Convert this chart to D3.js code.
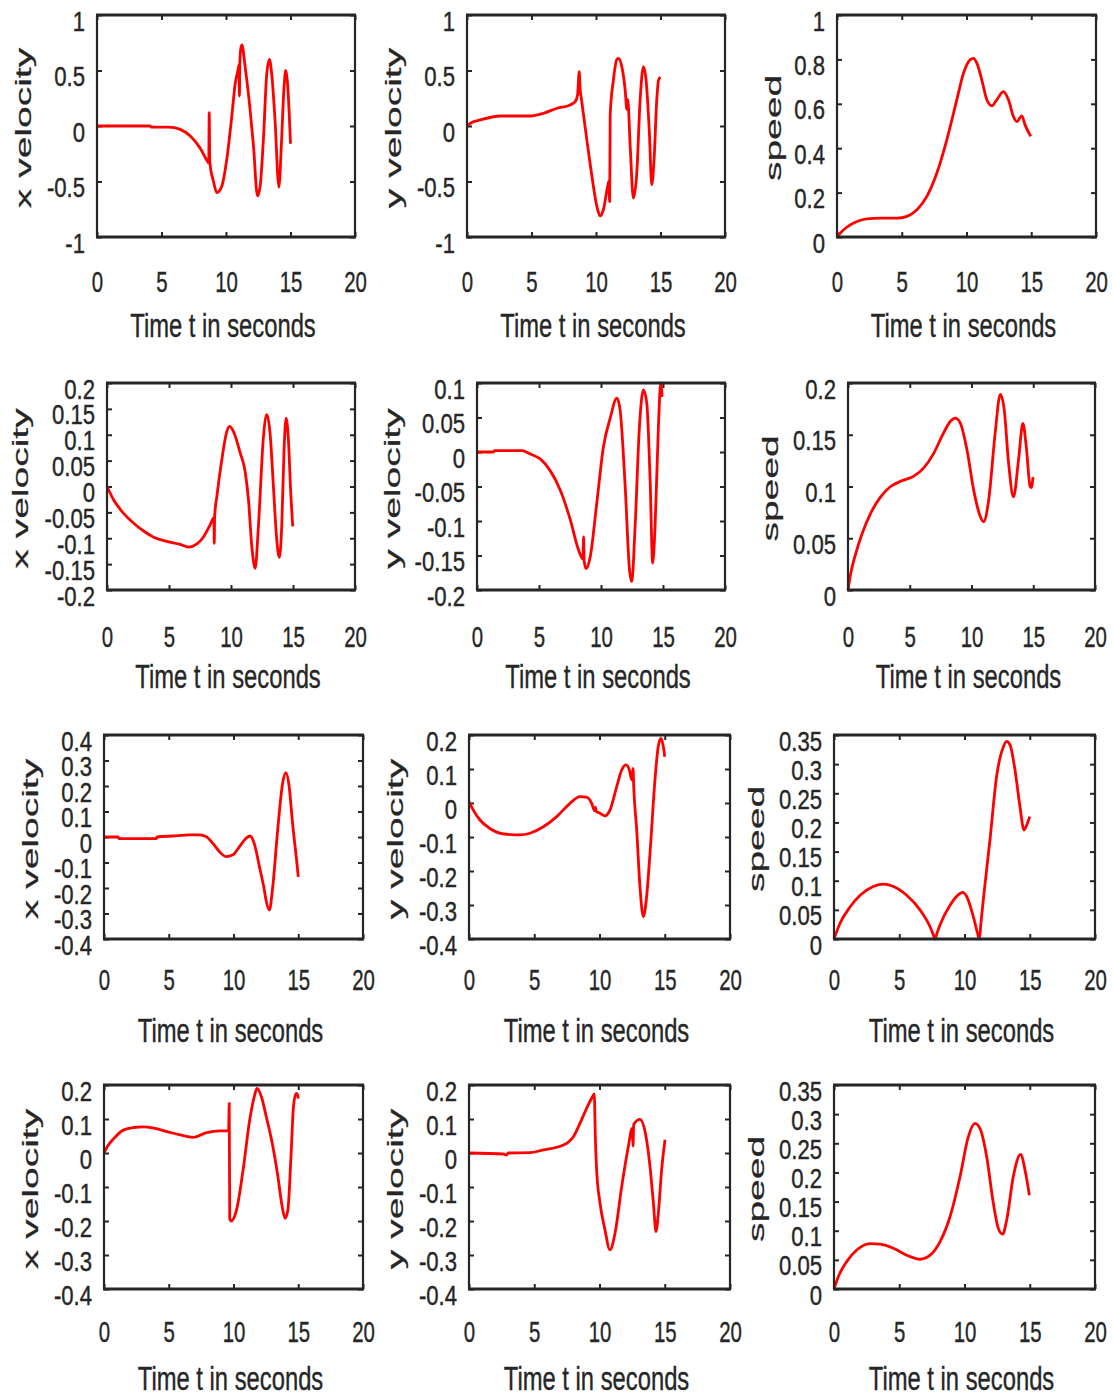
<!DOCTYPE html>
<html>
<head>
<meta charset="utf-8">
<script src="https://cdn.jsdelivr.net/npm/d3@7"></script>
<style>
  body { margin: 0; background: #fff; }
  svg text { font-family: "Liberation Sans", Arial, sans-serif; fill: #262626; stroke: #262626; stroke-width: 0.4px; }
</style>
</head>
<body>
<div id="chart"></div>
<script>
// Tick values and labels
const xTicks = [0, 5, 10, 15, 20];
const xLabel = "Time t in seconds";
const ticksUnit = [-1, -0.5, 0, 0.5, 1];
const ticksSpeedA = [0, 0.2, 0.4, 0.6, 0.8, 1];
const ticksXB = [-0.2, -0.15, -0.1, -0.05, 0, 0.05, 0.1, 0.15, 0.2];
const ticksYB = [-0.2, -0.15, -0.1, -0.05, 0, 0.05, 0.1];
const ticksSpeedB = [0, 0.05, 0.1, 0.15, 0.2];
const ticksXC = [-0.4, -0.3, -0.2, -0.1, 0, 0.1, 0.2, 0.3, 0.4];
const ticksLow = [-0.4, -0.3, -0.2, -0.1, 0, 0.1, 0.2];
const ticksSpeedC = [0, 0.05, 0.1, 0.15, 0.2, 0.25, 0.3, 0.35];

// Row 1
const p1Time = [0, 4.13, 4.2, 5.55, 6.45, 7.23, 8.0, 8.57, 8.66, 8.7, 8.74, 9.03, 9.29, 9.68, 10.06, 10.45, 10.7, 10.97, 11.0, 11.04, 11.07, 11.15, 11.23, 11.48, 11.87, 12.13, 12.44, 12.65, 12.9, 13.16, 13.37, 13.55, 13.8, 14.1, 14.3, 14.5, 14.63, 14.75, 14.9, 15.0];
const p1Vel = [0, 0, -0.01, -0.01, -0.03, -0.09, -0.2, -0.32, -0.335, 0.12, -0.32, -0.5, -0.6, -0.54, -0.3, 0.09, 0.37, 0.53, 0.55, 0.27, 0.56, 0.7, 0.73, 0.535, 0.145, -0.18, -0.63, -0.54, -0.12, 0.47, 0.6, 0.46, 0.055, -0.55, -0.15, 0.355, 0.5, 0.41, 0.115, -0.16];
const p2Time = [0, 0.26, 1.03, 2.6, 4.9, 5.94, 6.97, 8.0, 8.39, 8.57, 8.7, 8.77, 8.85, 9.29, 9.68, 10.06, 10.32, 10.58, 10.9, 10.99, 11.06, 11.1, 11.35, 11.6, 11.74, 12.0, 12.26, 12.39, 12.46, 12.65, 12.9, 13.16, 13.42, 13.68, 13.88, 14.14, 14.32, 14.5, 14.71, 14.85, 15.0];
const p2Vel = [0, 0.025, 0.055, 0.09, 0.09, 0.115, 0.16, 0.19, 0.22, 0.28, 0.49, 0.33, 0.26, -0.125, -0.45, -0.72, -0.81, -0.75, -0.545, -0.5, -0.68, 0.1, 0.415, 0.595, 0.61, 0.535, 0.325, 0.15, 0.24, -0.18, -0.65, -0.425, 0.235, 0.535, 0.415, -0.065, -0.53, -0.305, 0.235, 0.415, 0.44];
const p3Time = [0, 0.26, 0.77, 1.54, 2.31, 3.34, 4.63, 5.4, 6.17, 6.94, 7.71, 8.48, 9.25, 9.77, 10.28, 10.54, 10.8, 11.18, 11.57, 11.95, 12.34, 12.85, 13.24, 13.62, 13.88, 14.27, 14.52, 14.96];
const p3Speed = [0, 0.018, 0.045, 0.07, 0.082, 0.085, 0.085, 0.093, 0.123, 0.183, 0.288, 0.438, 0.618, 0.738, 0.798, 0.805, 0.783, 0.708, 0.618, 0.591, 0.618, 0.655, 0.618, 0.543, 0.52, 0.546, 0.505, 0.453];

// Row 2
const p4Time = [0, 0.54, 1.34, 2.15, 2.95, 3.76, 4.83, 5.9, 6.58, 7.25, 7.79, 8.32, 8.62, 8.65, 8.68, 8.86, 9.26, 9.66, 9.88, 10.2, 10.74, 11.14, 11.41, 11.68, 11.95, 12.21, 12.62, 12.89, 13.15, 13.42, 13.69, 13.9, 14.09, 14.28, 14.44, 14.63, 14.82, 14.98];
const p4Vel = [0, -0.026, -0.052, -0.071, -0.086, -0.098, -0.106, -0.112, -0.117, -0.111, -0.097, -0.074, -0.06, -0.11, -0.058, -0.019, 0.052, 0.106, 0.116, 0.106, 0.065, 0.029, -0.026, -0.116, -0.158, -0.077, 0.097, 0.139, 0.103, 0, -0.103, -0.137, -0.077, 0.071, 0.132, 0.09, -0.013, -0.077];
const p5Time = [0, 1.34, 1.4, 3.62, 4.3, 5.1, 5.9, 6.71, 7.52, 8.19, 8.54, 8.6, 8.64, 8.8, 9.13, 9.66, 10.2, 10.74, 11.28, 11.54, 11.95, 12.3, 12.48, 12.75, 13.1, 13.42, 13.69, 13.96, 14.17, 14.36, 14.63, 14.82, 14.93];
const p5Vel = [0, 0, 0.002, 0.002, -0.003, -0.01, -0.027, -0.055, -0.098, -0.142, -0.155, -0.123, -0.158, -0.169, -0.152, -0.074, 0.008, 0.049, 0.078, 0.061, -0.05, -0.171, -0.188, -0.108, 0.037, 0.09, 0.071, -0.04, -0.161, -0.108, 0.037, 0.1, 0.08];
const p6Time = [0, 0.22, 0.62, 1.16, 1.83, 2.64, 3.45, 4.25, 5.33, 6.14, 6.94, 7.75, 8.29, 8.69, 9.1, 9.64, 10.17, 10.71, 10.98, 11.39, 11.92, 12.33, 12.65, 13.0, 13.4, 13.81, 14.16, 14.43, 14.75, 14.85, 14.98];
const p6Speed = [0, 0.016, 0.035, 0.055, 0.074, 0.09, 0.1, 0.105, 0.11, 0.118, 0.132, 0.152, 0.163, 0.166, 0.161, 0.135, 0.097, 0.071, 0.066, 0.087, 0.152, 0.189, 0.174, 0.123, 0.09, 0.126, 0.161, 0.139, 0.1, 0.099, 0.109];

// Row 3
const p7Time = [0, 1.1, 1.15, 4.05, 4.1, 5.33, 6.6, 7.38, 7.9, 8.41, 8.92, 9.44, 9.95, 10.46, 10.97, 11.28, 11.6, 12.0, 12.38, 12.51, 12.77, 13.03, 13.41, 13.79, 14.05, 14.3, 14.56, 14.87, 15.0];
const p7Vel = [0, 0, -0.006, -0.006, 0, 0.004, 0.008, 0.008, 0.001, -0.025, -0.058, -0.077, -0.07, -0.038, -0.005, 0.004, -0.025, -0.116, -0.208, -0.247, -0.286, -0.195, 0.027, 0.21, 0.252, 0.197, 0.054, -0.09, -0.156];
const p8Time = [0, 0.33, 0.84, 1.6, 2.63, 3.9, 4.67, 5.7, 6.72, 7.74, 8.5, 9.0, 9.4, 9.62, 9.68, 9.75, 10.04, 10.42, 10.8, 11.32, 11.7, 12.03, 12.29, 12.47, 12.57, 12.62, 12.85, 13.1, 13.36, 13.61, 13.87, 14.25, 14.5, 14.71, 14.89, 15.0];
const p8Vel = [0.004, -0.021, -0.05, -0.075, -0.091, -0.094, -0.089, -0.07, -0.04, -0.001, 0.019, 0.017, -0.001, -0.023, -0.012, -0.025, -0.03, -0.038, -0.021, 0.048, 0.097, 0.112, 0.097, 0.068, 0.102, 0.05, -0.079, -0.246, -0.334, -0.275, -0.148, 0.068, 0.166, 0.19, 0.166, 0.136];
const p9Time = [0, 0.46, 1.23, 2.0, 3.01, 3.78, 4.55, 5.57, 6.59, 7.36, 7.6, 7.74, 7.88, 8.12, 8.89, 9.66, 9.86, 10.17, 10.68, 11.0, 11.14, 11.25, 11.44, 11.95, 12.46, 12.98, 13.23, 13.49, 13.87, 14.25, 14.56, 14.81, 15.0];
const p9Speed = [0, 0.027, 0.055, 0.075, 0.09, 0.094, 0.09, 0.075, 0.05, 0.021, 0.008, 0.0, 0.009, 0.024, 0.058, 0.078, 0.08, 0.073, 0.038, 0.01, 0.0, 0.025, 0.067, 0.17, 0.279, 0.33, 0.339, 0.333, 0.29, 0.227, 0.187, 0.198, 0.21];

// Row 4
const p10Time = [0, 0.26, 0.77, 1.53, 2.3, 3.07, 3.84, 4.86, 5.88, 6.9, 7.93, 8.95, 9.62, 9.67, 9.71, 9.82, 10.23, 10.74, 11.25, 11.64, 11.82, 12.15, 12.53, 13.04, 13.43, 13.76, 13.99, 14.2, 14.45, 14.63, 14.83, 14.92, 15.0];
const p10Vel = [0, 0.019, 0.043, 0.068, 0.075, 0.077, 0.073, 0.063, 0.053, 0.046, 0.06, 0.065, 0.065, 0.146, -0.195, -0.2, -0.168, -0.05, 0.097, 0.171, 0.19, 0.166, 0.107, 0.019, -0.07, -0.158, -0.192, -0.167, -0.001, 0.136, 0.175, 0.174, 0.16];
const p11Time = [0, 2.63, 2.89, 3.0, 4.67, 5.7, 6.72, 7.48, 8.0, 8.5, 9.02, 9.4, 9.6, 9.68, 9.78, 10.04, 10.42, 10.8, 11.19, 11.7, 12.21, 12.5, 12.57, 12.62, 13.1, 13.49, 13.87, 14.13, 14.33, 14.53, 14.76, 15.02];
const p11Vel = [0, -0.003, -0.006, 0, 0.001, 0.009, 0.017, 0.028, 0.048, 0.087, 0.132, 0.161, 0.174, 0.048, -0.05, -0.147, -0.226, -0.285, -0.236, -0.099, 0.019, 0.072, 0.02, 0.084, 0.099, 0.063, -0.04, -0.147, -0.231, -0.167, -0.05, 0.039];
const p12Time = [0, 0.33, 0.97, 1.74, 2.76, 3.52, 4.55, 5.57, 6.59, 7.36, 8.12, 8.89, 9.66, 10.29, 10.8, 11.19, 11.7, 12.21, 12.59, 12.92, 13.23, 13.74, 14.3, 14.64, 14.97];
const p12Speed = [0, 0.021, 0.047, 0.067, 0.078, 0.077, 0.07, 0.058, 0.051, 0.058, 0.081, 0.124, 0.193, 0.261, 0.284, 0.275, 0.227, 0.147, 0.104, 0.094, 0.118, 0.193, 0.231, 0.204, 0.161];

const panels = [
    {label: "x velocity", domain: [-1, 1], ticks: ticksUnit, time: p1Time, vals: p1Vel},
    {label: "y velocity", domain: [-1, 1], ticks: ticksUnit, time: p2Time, vals: p2Vel},
    {label: "speed", domain: [0, 1], ticks: ticksSpeedA, time: p3Time, vals: p3Speed},
    {label: "x velocity", domain: [-0.2, 0.2], ticks: ticksXB, time: p4Time, vals: p4Vel},
    {label: "y velocity", domain: [-0.2, 0.1], ticks: ticksYB, time: p5Time, vals: p5Vel},
    {label: "speed", domain: [0, 0.2], ticks: ticksSpeedB, time: p6Time, vals: p6Speed},
    {label: "x velocity", domain: [-0.4, 0.4], ticks: ticksXC, time: p7Time, vals: p7Vel},
    {label: "y velocity", domain: [-0.4, 0.2], ticks: ticksLow, time: p8Time, vals: p8Vel},
    {label: "speed", domain: [0, 0.35], ticks: ticksSpeedC, time: p9Time, vals: p9Speed},
    {label: "x velocity", domain: [-0.4, 0.2], ticks: ticksLow, time: p10Time, vals: p10Vel},
    {label: "y velocity", domain: [-0.4, 0.2], ticks: ticksLow, time: p11Time, vals: p11Vel},
    {label: "speed", domain: [0, 0.35], ticks: ticksSpeedC, time: p12Time, vals: p12Speed}
];

// Layout (pixel boxes of each axes)
const boxes = [
    {x0: 97, x1: 355, y0: 15, y1: 237, lx: 25},
    {x0: 467, x1: 725, y0: 15, y1: 237, lx: 395},
    {x0: 837, x1: 1096, y0: 15, y1: 237, lx: 775},
    {x0: 107, x1: 355, y0: 383, y1: 590, lx: 22},
    {x0: 477, x1: 725, y0: 383, y1: 590, lx: 394},
    {x0: 848, x1: 1095, y0: 383, y1: 590, lx: 772},
    {x0: 104, x1: 363, y0: 735, y1: 939, lx: 32},
    {x0: 469, x1: 730, y0: 735, y1: 939, lx: 397},
    {x0: 834, x1: 1095, y0: 735, y1: 939, lx: 758},
    {x0: 104, x1: 363, y0: 1085, y1: 1289, lx: 32},
    {x0: 469, x1: 730, y0: 1085, y1: 1289, lx: 397},
    {x0: 834, x1: 1095, y0: 1085, y1: 1289, lx: 758}
];
const rowGaps = [{tick: 55, title: 100}, {tick: 57, title: 98}, {tick: 51, title: 103}, {tick: 53, title: 101}];

const ink = "#262626";

const svg = d3.select("#chart")
    .append("svg")
    .attr("width", 1114)
    .attr("height", 1396)
    .style("background", "#fff");

panels.forEach((p, i) => {
    const b = boxes[i];
    const gap = rowGaps[Math.floor(i / 3)];
    const g = svg.append("g").attr("color", ink);

    const x = d3.scaleLinear().domain([0, 20]).range([b.x0, b.x1]);
    const y = d3.scaleLinear().domain(p.domain).range([b.y1, b.y0]);

    // bottom axis with labels, ticks point inward
    const bottom = g.append("g")
        .attr("transform", `translate(0,${b.y1})`)
        .call(d3.axisBottom(x).tickValues(xTicks).tickSizeInner(-5).tickSizeOuter(0).tickFormat(d => String(d)));
    bottom.select(".domain").remove();
    bottom.selectAll(".tick line").attr("stroke-width", 2);
    bottom.selectAll("text")
        .attr("y", null).attr("dy", null)
        .attr("font-size", 30)
        .attr("transform", `translate(0,${gap.tick}) scale(0.68,1)`);

    // top axis, ticks only
    const top = g.append("g")
        .attr("transform", `translate(0,${b.y0})`)
        .call(d3.axisTop(x).tickValues(xTicks).tickSizeInner(-5).tickSizeOuter(0).tickFormat(""));
    top.select(".domain").remove();
    top.selectAll(".tick line").attr("stroke-width", 2);

    // left axis with labels
    const left = g.append("g")
        .attr("transform", `translate(${b.x0},0)`)
        .call(d3.axisLeft(y).tickValues(p.ticks).tickSizeInner(-5).tickSizeOuter(0).tickFormat(d => String(d)));
    left.select(".domain").remove();
    left.selectAll(".tick line").attr("stroke-width", 2);
    left.selectAll("text")
        .attr("x", null).attr("dy", null)
        .attr("font-size", 27)
        .attr("transform", "translate(-12,15) scale(0.82,1)");

    // right axis, ticks only
    const right = g.append("g")
        .attr("transform", `translate(${b.x1},0)`)
        .call(d3.axisRight(y).tickValues(p.ticks).tickSizeInner(-5).tickSizeOuter(0).tickFormat(""));
    right.select(".domain").remove();
    right.selectAll(".tick line").attr("stroke-width", 2);

    // the line
    const line = d3.line()
        .x((d, k) => x(p.time[k]))
        .y(d => y(d))
        .curve(d3.curveMonotoneX);

    g.append("path")
        .datum(p.vals)
        .attr("d", line)
        .attr("fill", "none")
        .attr("stroke", "#ff0000")
        .attr("stroke-width", 2.8)
        .attr("stroke-linejoin", "round");

    // box: horizontal edges a bit heavier than vertical ones
    g.append("line").attr("x1", b.x0 - 1).attr("x2", b.x1 + 1).attr("y1", b.y0).attr("y2", b.y0)
        .attr("stroke", ink).attr("stroke-width", 3);
    g.append("line").attr("x1", b.x0 - 1).attr("x2", b.x1 + 1).attr("y1", b.y1).attr("y2", b.y1)
        .attr("stroke", ink).attr("stroke-width", 3);
    g.append("line").attr("x1", b.x0).attr("x2", b.x0).attr("y1", b.y0).attr("y2", b.y1)
        .attr("stroke", ink).attr("stroke-width", 2.2);
    g.append("line").attr("x1", b.x1).attr("x2", b.x1).attr("y1", b.y0).attr("y2", b.y1)
        .attr("stroke", ink).attr("stroke-width", 2.2);

    // axis titles
    g.append("text")
        .attr("text-anchor", "middle")
        .attr("font-size", 34)
        .attr("transform", `translate(${(b.x0 + b.x1) / 2 - 3},${b.y1 + gap.title}) scale(0.7,1)`)
        .text(xLabel);

    g.append("text")
        .attr("text-anchor", "middle")
        .attr("dy", "0.26em")
        .attr("font-size", 39)
        .attr("transform", `translate(${b.lx},${(b.y0 + b.y1) / 2 + 2}) scale(0.58,1) rotate(-90)`)
        .text(p.label);
});
</script>
</body>
</html>
